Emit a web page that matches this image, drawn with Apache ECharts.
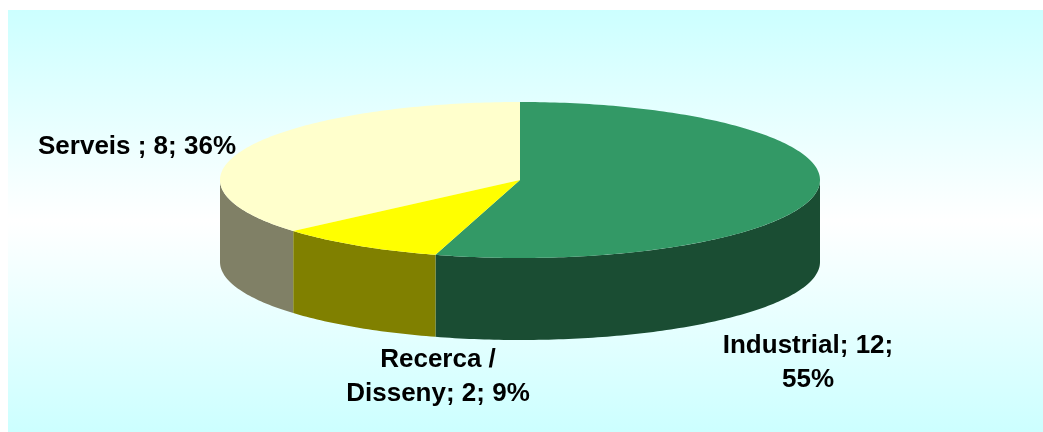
<!DOCTYPE html>
<html>
<head>
<meta charset="utf-8">
<style>
  html, body { margin: 0; padding: 0; background: #fff; }
  #main { width: 1043px; height: 432px; }
</style>
<script src="https://cdn.jsdelivr.net/npm/echarts@6/dist/echarts.min.js"></script>
</head>
<body>
<div id="main"></div>
<script>
const categories = ['Industrial', 'Recerca / Disseny', 'Serveis ']
const values = [12, 2, 8]
const percents = [55, 9, 36]
const topColors = ['#339966', '#ffff00', '#ffffcc']
const sideColors = ['#1a4d33', '#808000', '#808066']
const labelLines = [['Industrial; 12;', '55%'], ['Recerca /', 'Disseny; 2; 9%'], ['Serveis ; 8; 36%']]
const labelPos = [[808, 363], [438, 377], [137, 147]]

const cx = 520
const cy = 180
const rx = 300
const ry = 78
const depth = 82
const total = values.reduce((a, b) => a + b, 0)

const ellipse = (a, dy) => [cx + rx * Math.sin(a), cy + dy - ry * Math.cos(a)]

// clockwise from 12 o'clock, like the office pie
const slices = []
let acc = 0
values.forEach((v, i) => {
    const start = (acc / total) * Math.PI * 2
    acc += v
    slices.push({ i, start, end: (acc / total) * Math.PI * 2 })
})

const arcPoints = (start, end, dy) => {
    const pts = []
    const n = Math.max(2, Math.ceil((end - start) * 60))
    for (let k = 0; k <= n; k++) {
        pts.push(ellipse(start + ((end - start) * k) / n, dy))
    }
    return pts
}

const renderSlice = (params, api) => {
    const s = slices[api.value(0)]
    const children = []
    // side wall only exists on the front half of the ellipse
    const from = Math.max(s.start, Math.PI / 2)
    const to = Math.min(s.end, (Math.PI * 3) / 2)
    if (to > from) {
        const top = arcPoints(from, to, 0)
        const bottom = arcPoints(from, to, depth).reverse()
        children.push({
            type: 'polygon',
            shape: { points: top.concat(bottom) },
            style: { fill: sideColors[s.i] },
        })
    }
    children.push({
        type: 'polygon',
        shape: { points: [[cx, cy]].concat(arcPoints(s.start, s.end, 0)) },
        style: { fill: topColors[s.i] },
    })
    return { type: 'group', children }
}

const chart = echarts.init(document.getElementById('main'), null, { renderer: 'canvas' })
chart.setOption({
    animation: false,
    graphic: [
        {
            type: 'rect',
            z: -10,
            shape: { x: 8, y: 10, width: 1035, height: 422 },
            style: {
                fill: new echarts.graphic.LinearGradient(0, 0, 0, 1, [
                    { offset: 0, color: '#ccffff' },
                    { offset: 0.5, color: '#ffffff' },
                    { offset: 1, color: '#ccffff' },
                ]),
            },
        },
        ...labelLines.map((lines, i) => ({
            type: 'text',
            z: 10,
            x: labelPos[i][0],
            y: labelPos[i][1],
            style: {
                text: lines.join('\n'),
                font: 'bold 26px "Liberation Sans", Arial, sans-serif',
                lineHeight: 34,
                fill: '#000',
                align: 'center',
                verticalAlign: 'middle',
            },
        })),
    ],
    xAxis: { show: false, min: 0, max: 1 },
    yAxis: { show: false, min: 0, max: 1 },
    grid: { left: 0, right: 0, top: 0, bottom: 0 },
    series: [
        {
            type: 'custom',
            coordinateSystem: 'none',
            renderItem: renderSlice,
            // draw back to front so the walls overlap properly
            data: [[2, values[2]], [0, values[0]], [1, values[1]]],
        },
    ],
})
</script>
</body>
</html>
